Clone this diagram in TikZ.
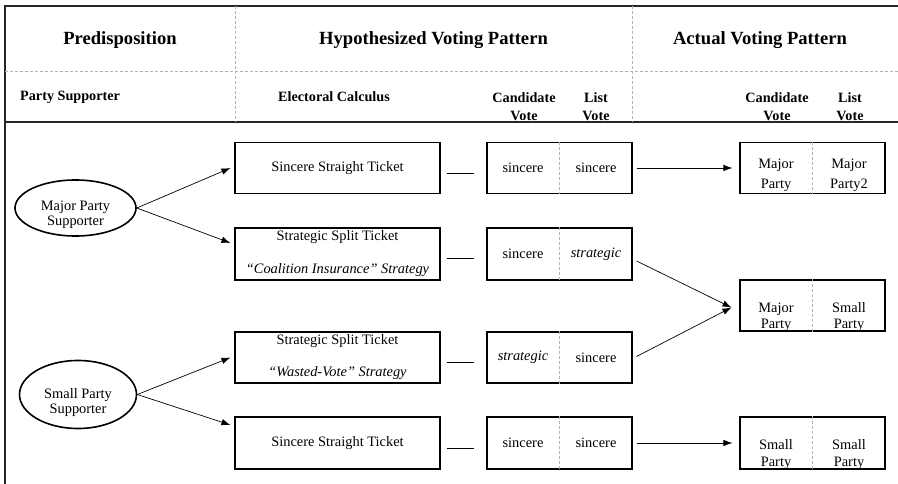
\documentclass[tikz,border=0pt]{standalone}
\usepackage{fontspec}
\setmainfont{Liberation Serif}
\usetikzlibrary{shapes.geometric,arrows.meta,calc}

\begin{document}
\begin{tikzpicture}[x=1pt,y=-1pt,
  every node/.style={font=\fontsize{14.4}{17}\selectfont},
  head/.style={font=\fontsize{18.6}{22}\selectfont\bfseries},
  subhead/.style={font=\fontsize{14.2}{18}\selectfont\bfseries, align=center, inner sep=0pt},
  frame/.style={line width=1.3pt, color=black!85},
  guide/.style={densely dashed, line width=0.5pt, color=black!30},
  calcbox/.style={draw, line width=1.1pt, minimum width=205pt, minimum height=51pt, align=center, inner sep=0pt},
  votebox/.style={draw, line width=1.1pt, minimum width=145pt, minimum height=51pt, inner sep=0pt},
  party/.style={align=center, font=\fontsize{14.4}{#1}\selectfont},
  party/.default=20,
  supporter/.style={draw, ellipse, line width=1.6pt, inner sep=0pt},
  suptext/.style={align=center, font=\fontsize{14.4}{15}\selectfont},
  tip/.style={-{Latex[length=9pt,width=6.5pt]}, line width=0.7pt},
  link/.style={line width=0.7pt}]
  \useasboundingbox (0,0) rectangle (898,484);
  %frame
  \coordinate (NW) at (5,6);
  \coordinate (NE) at (898,6);
  \coordinate (MW) at (5,71);
  \coordinate (ME) at (898,71);
  \coordinate (SW) at (5,122);
  \coordinate (SE) at (898,122);
  \coordinate (BW) at (5,484);
  \draw[frame] (NE) -- (NW) -- (BW);
  \draw[frame] (SW) -- (SE);
  \draw[guide] (MW) -- (ME);
  \draw[guide] (235,6) -- (235,122);
  \draw[guide] (632,6) -- (632,122);
  %headers
  \node[head] (predisp) at (120,40) {Predisposition};
  \node[head] (hypo) at (433.5,40) {Hypothesized Voting Pattern};
  \node[head] (actual) at (760,40) {Actual Voting Pattern};
  \node[subhead, anchor=west] (partyH) at (20,97) {Party Supporter};
  \node[subhead] (calcH) at (334,97) {Electoral Calculus};
  \node[subhead] (candH) at (524,107) {Candidate\\Vote};
  \node[subhead] (listH) at (596,107) {List\\Vote};
  \node[subhead] (candA) at (777,107) {Candidate\\Vote};
  \node[subhead] (listA) at (850,107) {List\\Vote};
  %supporters
  \node[supporter, minimum width=121pt, minimum height=56pt,
    label={[suptext, yshift=-7pt]center:{Major Party\\Supporter}}] (major) at (75.5,208) {};
  \node[supporter, minimum width=117pt, minimum height=68pt,
    label={[suptext, yshift=-8pt]center:{Small Party\\Supporter}}] (small) at (78,394.5) {};
  %electoral calculus
  \node[calcbox] (c1) at (337.5,168) {Sincere Straight Ticket};
  \node[calcbox, minimum height=52pt] (c2) at (337.5,254) {Strategic Split Ticket\\[16pt]\textit{“Coalition Insurance” Strategy}};
  \node[calcbox] (c3) at (337.5,357.5) {Strategic Split Ticket\\[15pt]\textit{“Wasted-Vote” Strategy}};
  \node[calcbox, minimum height=52pt] (c4) at (337.5,443) {Sincere Straight Ticket};
  %hypothesized votes
  \node[votebox] (v1) at (559.5,168) {};
  \node[votebox, minimum height=52pt] (v2) at (559.5,254) {};
  \node[votebox] (v3) at (559.5,357.5) {};
  \node[votebox, minimum height=52pt] (v4) at (559.5,443) {};
  \node (v1l) at ($(v1.center)+(-36.5,0)$) {sincere};
  \node (v1r) at ($(v1.center)+(36.5,0)$) {sincere};
  \node (v2l) at ($(v2.center)+(-36.5,0)$) {sincere};
  \node (v2r) at ($(v2.center)+(36.5,0)$) {\textit{strategic}};
  \node (v3l) at ($(v3.center)+(-36.5,0)$) {\textit{strategic}};
  \node (v3r) at ($(v3.center)+(36.5,0)$) {sincere};
  \node (v4l) at ($(v4.center)+(-36.5,0)$) {sincere};
  \node (v4r) at ($(v4.center)+(36.5,0)$) {sincere};
  %actual votes
  \node[votebox] (a1) at (812.5,168) {};
  \node[votebox] (a2) at (812.5,305.5) {};
  \node[votebox, minimum height=52pt] (a3) at (812.5,443) {};
  \node[party] (a1l) at ($(a1.center)+(-36.5,7.5)$) {Major\\Party};
  \node[party] (a1r) at ($(a1.center)+(36.5,7.5)$) {Major\\Party2};
  \node[party=16] (a2l) at ($(a2.center)+(-36.5,12)$) {Major\\Party};
  \node[party=16] (a2r) at ($(a2.center)+(36.5,12)$) {Small\\Party};
  \node[party=17] (a3l) at ($(a3.center)+(-36.5,12)$) {Small\\Party};
  \node[party=17] (a3r) at ($(a3.center)+(36.5,12)$) {Small\\Party};
  \foreach \b in {v1,v2,v3,v4,a1,a2,a3}
    \draw[guide] (\b.north) -- (\b.south);
  %segments
  \draw[link] ($(c1.east)+(6,5)$) -- ($(v1.west)+(-12,5)$);
  \draw[link] ($(c2.east)+(6,4)$) -- ($(v2.west)+(-12,4)$);
  \draw[link] ($(c3.east)+(6,5)$) -- ($(v3.west)+(-12,5)$);
  \draw[link] ($(c4.east)+(6,5)$) -- ($(v4.west)+(-12,5)$);
  %arrows
  \draw[tip] (major.east) -- ([xshift=-4]c1.west);
  \draw[tip] (major.east) -- ($(c2.west)+(-4,-11)$);
  \draw[tip] (small.east) -- ([xshift=-4]c3.west);
  \draw[tip] (small.east) -- ($(c4.west)+(-4,-18)$);
  \draw[tip] ([xshift=4]v1.east) -- ([xshift=-7]a1.west);
  \draw[tip] ($(v2.east)+(4,7)$) -- ($(a2.west)+(-8,2)$);
  \draw[tip] ($(v3.east)+(4,-1)$) -- ($(a2.west)+(-8,2)$);
  \draw[tip] ([xshift=4]v4.east) -- ([xshift=-7]a3.west);
\end{tikzpicture}
\end{document}
